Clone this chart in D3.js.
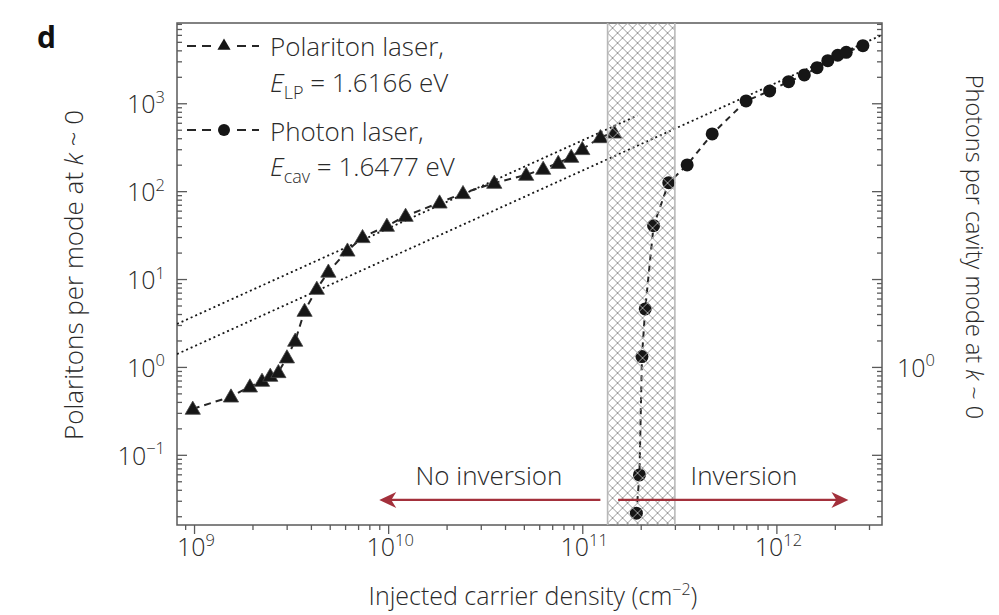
<!DOCTYPE html>
<html>
<head>
<meta charset="utf-8">
<script src="https://cdn.jsdelivr.net/npm/d3@7/dist/d3.min.js"></script>
<style>
  body { margin: 0; background: #fff; }
  text { font-family: "Open Sans", "DejaVu Sans", sans-serif; fill: #2a2a2a; font-weight: 300; }
</style>
</head>
<body>
<svg id="chart" width="999" height="615"></svg>
<script>
// Polariton laser (triangles): injected carrier density (cm^-2) vs polaritons per mode
const polaritonDensity = [0.985e9, 1.55e9, 1.94e9, 2.24e9, 2.47e9, 2.72e9, 3.01e9, 3.32e9, 3.71e9,
  4.29e9, 4.92e9, 6.17e9, 7.38e9, 9.85e9, 1.23e10, 1.84e10, 2.43e10, 3.52e10, 5.14e10, 6.29e10,
  7.52e10, 8.77e10, 1.0e11, 1.24e11, 1.46e11];
const polaritonOccupancy = [0.333, 0.459, 0.597, 0.693, 0.79, 0.87, 1.28, 1.98, 4.33,
  7.72, 12.1, 21.0, 29.9, 40.2, 52.2, 74.0, 94.7, 124, 153, 179,
  209, 245, 300, 410, 463];

// Photon laser (circles): injected carrier density vs photons per cavity mode
const photonDensity = [1.90e11, 1.97e11, 2.03e11, 2.11e11, 2.33e11, 2.79e11, 3.47e11, 4.67e11,
  6.98e11, 9.23e11, 1.156e12, 1.393e12, 1.62e12, 1.84e12, 2.07e12, 2.29e12, 2.79e12];
const photonOccupancy = [0.0217, 0.059, 1.31, 4.57, 40.5, 125, 199, 448,
  1062, 1380, 1762, 2099, 2542, 3054, 3518, 3802, 4520];

// Linear (slope 1 in log-log) reference lines
const fitUpperDensity = [8.17e8, 1.92e11];
const fitUpperOccupancy = [3.08, 724];
const fitLowerDensity = [8.17e8, 3.5e12];
const fitLowerOccupancy = [1.40, 5985];

// Transition band (shaded) and inversion arrows
const bandDensity = [1.35e11, 3.0e11];
const arrowLevel = 0.0307;
const noInversionArrow = [1.24e11, 9.0e9];
const inversionArrow = [1.53e11, 2.35e12];

// Axes
const xDomain = [8.17e8, 3.5e12];
const yDomain = [0.0159, 8190];
const xTickValues = [1e9, 1e10, 1e11, 1e12];
const xTickExponents = ["9", "10", "11", "12"];
const yTickValues = [1e3, 1e2, 1e1, 1e0, 1e-1];
const yTickExponents = ["3", "2", "1", "0", "\u22121"];
const yRightTickValues = [1e0];
const yRightTickExponents = ["0"];

const svg = d3.select("#chart");
const L = 177, R = 882, T = 23, B = 525;

const x = d3.scaleLog().domain(xDomain).range([L, R]);
const y = d3.scaleLog().domain(yDomain).range([B, T]);
const yRight = y.copy();

const axisColor = "#5a5a5a";
const inkColor = "#161616";
const arrowColor = "#a3303b";

// Cross-hatch pattern for the transition band
const defs = svg.append("defs");
const pat = defs.append("pattern")
  .attr("id", "xhatch")
  .attr("patternUnits", "userSpaceOnUse")
  .attr("width", 10).attr("height", 10)
  .attr("x", x(bandDensity[0])).attr("y", T);
pat.append("path")
  .attr("d", "M-1,-1L11,11M11,-1L-1,11")
  .attr("stroke", "#9c9c9c").attr("stroke-width", 1).attr("fill", "none");

defs.append("clipPath").attr("id", "plotClip")
  .append("rect").attr("x", L).attr("y", T).attr("width", R - L).attr("height", B - T);

// Minor/major ticks
function isDecade(v) { return Math.abs(Math.log10(v) - Math.round(Math.log10(v))) < 1e-9; }
const xMinor = x.ticks().filter(v => !isDecade(v));
const yMinor = y.ticks().filter(v => !isDecade(v));
const yMajorAll = y.ticks().filter(isDecade);

function styleAxis(g) {
  g.select(".domain").remove();
  g.selectAll(".tick line").attr("stroke", axisColor).attr("stroke-width", 1.3);
  g.selectAll(".tick text").remove();
}

svg.append("g").attr("transform", `translate(0,${B})`)
  .call(d3.axisBottom(x).tickValues(xMinor).tickSize(5)).call(styleAxis);
svg.append("g").attr("transform", `translate(0,${B})`)
  .call(d3.axisBottom(x).tickValues(xTickValues).tickSize(9)).call(styleAxis);

svg.append("g").attr("transform", `translate(${L},0)`)
  .call(d3.axisRight(y).tickValues(yMinor).tickSize(5)).call(styleAxis);
svg.append("g").attr("transform", `translate(${L},0)`)
  .call(d3.axisRight(y).tickValues(yMajorAll).tickSize(10)).call(styleAxis);

svg.append("g").attr("transform", `translate(${R},0)`)
  .call(d3.axisLeft(yRight).tickValues(yMinor).tickSize(5)).call(styleAxis);
svg.append("g").attr("transform", `translate(${R},0)`)
  .call(d3.axisLeft(yRight).tickValues(yMajorAll).tickSize(10)).call(styleAxis);

// Plot frame
svg.append("rect").attr("x", L).attr("y", T).attr("width", R - L).attr("height", B - T)
  .attr("fill", "none").attr("stroke", axisColor).attr("stroke-width", 1.5);

// Tick labels with superscript exponents
function powerLabel(sel, base, exp, size) {
  sel.append("tspan").text(base).style("font-size", size + "px");
  sel.append("tspan").text(exp).attr("dy", -size * 0.42).style("font-size", (size * 0.66) + "px");
}
xTickValues.forEach((v, i) => {
  const t = svg.append("text").attr("x", x(v) + 2).attr("y", 556).attr("text-anchor", "middle");
  powerLabel(t, "10", xTickExponents[i], 25);
});
yTickValues.forEach((v, i) => {
  const t = svg.append("text").attr("x", 165).attr("y", y(v) + 10).attr("text-anchor", "end");
  powerLabel(t, "10", yTickExponents[i], 25);
});
yRightTickValues.forEach((v, i) => {
  const t = svg.append("text").attr("x", 897).attr("y", yRight(v) + 10).attr("text-anchor", "start");
  powerLabel(t, "10", yRightTickExponents[i], 25);
});

// Data layer
const plot = svg.append("g").attr("clip-path", "url(#plotClip)");

const line = d3.line().x(d => x(d[0])).y(d => y(d[1]));

plot.append("path").datum(d3.zip(fitUpperDensity, fitUpperOccupancy))
  .attr("d", line).attr("fill", "none").attr("stroke", inkColor)
  .attr("stroke-width", 1.8).attr("stroke-dasharray", "2,3");
plot.append("path").datum(d3.zip(fitLowerDensity, fitLowerOccupancy))
  .attr("d", line).attr("fill", "none").attr("stroke", inkColor)
  .attr("stroke-width", 1.8).attr("stroke-dasharray", "2,3");

const polaritons = d3.zip(polaritonDensity, polaritonOccupancy);
const photons = d3.zip(photonDensity, photonOccupancy);

plot.append("path").datum(polaritons).attr("d", line)
  .attr("fill", "none").attr("stroke", "#262626").attr("stroke-width", 2)
  .attr("stroke-dasharray", "7,5");
plot.append("path").datum(photons).attr("d", line)
  .attr("fill", "none").attr("stroke", "#262626").attr("stroke-width", 2)
  .attr("stroke-dasharray", "6,5");

const tri = d3.symbol().type(d3.symbolTriangle).size(100);
plot.selectAll(".tri").data(polaritons).join("path")
  .attr("class", "tri")
  .attr("transform", d => `translate(${x(d[0])},${y(d[1]) + 1})`)
  .attr("d", tri).attr("fill", inkColor).attr("stroke", "#444").attr("stroke-width", 0.8);

plot.selectAll(".dot").data(photons).join("circle")
  .attr("class", "dot")
  .attr("cx", d => x(d[0])).attr("cy", d => y(d[1])).attr("r", 6.5)
  .attr("fill", inkColor);

// Transition band drawn over the markers
const bx0 = x(bandDensity[0]), bx1 = x(bandDensity[1]);
svg.append("rect").attr("x", bx0).attr("y", T).attr("width", bx1 - bx0).attr("height", B - T)
  .attr("fill", "url(#xhatch)");
svg.append("line").attr("x1", bx0).attr("x2", bx0).attr("y1", T).attr("y2", B)
  .attr("stroke", "#b9b9b9").attr("stroke-width", 1.6);
svg.append("line").attr("x1", bx1).attr("x2", bx1).attr("y1", T).attr("y2", B)
  .attr("stroke", "#b9b9b9").attr("stroke-width", 1.6);

// Inversion arrows
function arrow(from, to) {
  const x0 = x(from), x1 = x(to), yy = y(arrowLevel);
  const dir = Math.sign(x1 - x0);
  svg.append("line").attr("x1", x0).attr("x2", x1 - dir * 8).attr("y1", yy).attr("y2", yy)
    .attr("stroke", arrowColor).attr("stroke-width", 2.4);
  svg.append("path")
    .attr("d", `M${x1},${yy}L${x1 - dir * 17},${yy - 8}L${x1 - dir * 12},${yy}L${x1 - dir * 17},${yy + 8}Z`)
    .attr("fill", arrowColor);
}
arrow(noInversionArrow[0], noInversionArrow[1]);
arrow(inversionArrow[0], inversionArrow[1]);

svg.append("text").attr("x", 489).attr("y", 485).attr("text-anchor", "middle")
  .style("font-size", "26px").text("No inversion");
svg.append("text").attr("x", 744).attr("y", 485).attr("text-anchor", "middle")
  .style("font-size", "26px").text("Inversion");

// Legend
function legendRow(yy, marker) {
  svg.append("line").attr("x1", 187).attr("x2", 211).attr("y1", yy).attr("y2", yy)
    .attr("stroke", "#262626").attr("stroke-width", 2).attr("stroke-dasharray", "9,6");
  svg.append("line").attr("x1", 237).attr("x2", 259).attr("y1", yy).attr("y2", yy)
    .attr("stroke", "#262626").attr("stroke-width", 2).attr("stroke-dasharray", "9,6");
  if (marker === "triangle") {
    svg.append("path").attr("transform", `translate(224,${yy})`)
      .attr("d", d3.symbol().type(d3.symbolTriangle).size(75)).attr("fill", inkColor);
  } else {
    svg.append("circle").attr("cx", 224).attr("cy", yy).attr("r", 6).attr("fill", inkColor);
  }
}
legendRow(46, "triangle");
legendRow(130, "circle");

function energyLabel(yy, sub, value) {
  const t = svg.append("text").attr("x", 270).attr("y", yy).style("font-size", "26px");
  t.append("tspan").text("E").style("font-style", "italic");
  t.append("tspan").text(sub).attr("dy", 7).style("font-size", "18px");
  t.append("tspan").text(" = " + value).attr("dy", -7).style("font-size", "26px");
}
svg.append("text").attr("x", 270).attr("y", 56).style("font-size", "26px").text("Polariton laser,");
energyLabel(91.5, "LP", "1.6166 eV");
svg.append("text").attr("x", 270).attr("y", 140.5).style("font-size", "26px").text("Photon laser,");
energyLabel(176, "cav", "1.6477 eV");

// Axis titles
const yTitle = svg.append("text").attr("transform", "translate(83,275) rotate(-90)")
  .attr("text-anchor", "middle").style("font-size", "26px");
yTitle.append("tspan").text("Polaritons per mode at ");
yTitle.append("tspan").text("k").style("font-style", "italic");
yTitle.append("tspan").text(" ~ 0");

const yRTitle = svg.append("text").attr("transform", "translate(966,247) rotate(90)")
  .attr("text-anchor", "middle").style("font-size", "23.5px");
yRTitle.append("tspan").text("Photons per cavity mode at ");
yRTitle.append("tspan").text("k").style("font-style", "italic");
yRTitle.append("tspan").text(" ~ 0");

const xTitle = svg.append("text").attr("x", 533).attr("y", 605)
  .attr("text-anchor", "middle").style("font-size", "25px");
xTitle.append("tspan").text("Injected carrier density (cm");
xTitle.append("tspan").text("\u22122").attr("dy", -10).style("font-size", "16px");
xTitle.append("tspan").text(")").attr("dy", 10).style("font-size", "25px");

// Panel letter
svg.append("text").attr("x", 37).attr("y", 48)
  .style("font-size", "30px").style("font-weight", "700").style("fill", "#111").text("d");
</script>
</body>
</html>
